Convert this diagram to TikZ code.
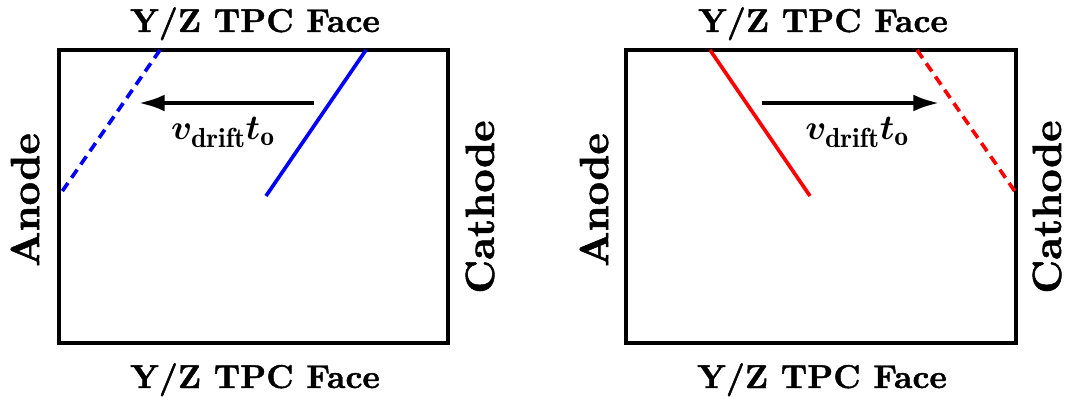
\documentclass[tikz,border=0pt]{standalone}
\usepackage{amsmath}
\usepackage{bm}
\usepackage{fontspec}
\newfontfamily\heavy{lmroman10-bold.otf}[FakeBold=1.2]
\usetikzlibrary{arrows.meta,positioning}
\begin{document}
\begin{tikzpicture}[x=0.025cm,y=-0.025cm,>={Latex[length=19pt,width=12pt]},face/.style={line width=2.7pt},track/.style={line width=2.6pt},drift/.style={->,line width=3.4pt},moved/.style={track,dash pattern=on 7pt off 4.5pt},facelbl/.style={anchor=base,inner sep=0pt,font=\fontsize{23.5}{28}\selectfont\heavy},sidelbl/.style={rotate=90,font=\fontsize{29}{34}\selectfont\heavy},driftlbl/.style={anchor=base,inner sep=0pt,font=\fontsize{28}{32}\selectfont}]
\useasboundingbox (0,0) rectangle (1069,400);
% left: track shifted towards the anode
\draw[face] (59,50) rectangle (448,343);
\node[facelbl] (topL) at (255,32) {Y/Z TPC Face};\node[facelbl] (botL) at (255,388) {Y/Z TPC Face};
\node[sidelbl] (anodeL) at (25,200) {Anode};\node[sidelbl] (cathodeL) at (480,207) {Cathode};
\coordinate (bA) at (366,50);\coordinate (bB) at (266,196);
\coordinate (bC) at (160,50);\coordinate (bD) at (61,193);
\draw[track,blue] (bA)--(bB);\draw[moved,blue] (bC)--(bD);
\coordinate (aL1) at (314,103);\coordinate (aL2) at (138,103);
\draw[drift] (aL1)--(aL2);
\node[driftlbl] (lblL) at (223,140) {$\bm{v}_{\mathbf{drift}}\bm{t}_{\mathbf{o}}$};
% right: track shifted towards the cathode
\draw[face] (626,50) rectangle (1016,343);
\node[facelbl] (topR) at (823,32) {Y/Z TPC Face};\node[facelbl] (botR) at (822,388) {Y/Z TPC Face};
\node[sidelbl] (anodeR) at (594,200) {Anode};\node[sidelbl] (cathodeR) at (1047,207) {Cathode};
\coordinate (rA) at (710,50);\coordinate (rB) at (810,196);
\coordinate (rC) at (917,50);\coordinate (rD) at (1016,193);
\draw[track,red] (rA)--(rB);\draw[moved,red] (rC)--(rD);
\coordinate (aR1) at (762,103);\coordinate (aR2) at (940,103);
\draw[drift] (aR1)--(aR2);
\node[driftlbl] (lblR) at (857,140) {$\bm{v}_{\mathbf{drift}}\bm{t}_{\mathbf{o}}$};
\end{tikzpicture}
\end{document}
